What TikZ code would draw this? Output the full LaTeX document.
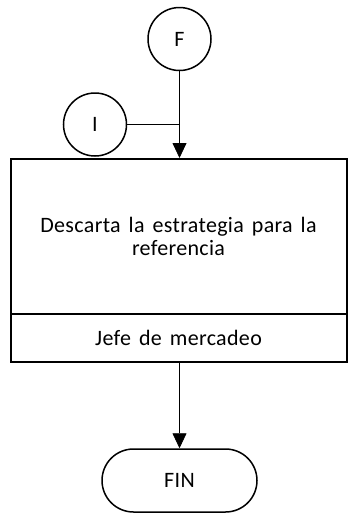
\documentclass[tikz,border=0pt]{standalone}
\usepackage{fontspec}
\setmainfont{Carlito}[LetterSpace=1.5]
\usetikzlibrary{arrows.meta,shapes.misc}
\newcommand\diagfont{\fontsize{22}{23.5}\selectfont\spaceskip 8pt plus 1pt minus 1pt\relax}
\begin{document}
\begin{tikzpicture}[x=1pt,y=-1pt,
  txt/.style={font=\diagfont},
  conn/.style={txt,circle,draw,line width=1.5pt,minimum size=63pt,inner sep=0pt},
  proc/.style={txt,draw,line width=2pt,minimum width=336pt,inner sep=0pt,align=center},
  term/.style={txt,rounded rectangle,draw,line width=1.5pt,minimum width=155pt,minimum height=63pt,inner sep=0pt},
  link/.style={line width=0.8pt},
  flow/.style={link,-{Triangle[length=15pt,width=14pt]}}
]
\path[fill=white] (0,0) rectangle (351,517);
\node[conn] (F) at (179.5,39) {F};
\node[conn] (I) at (95,124.5) {I};
\node[proc,minimum height=155pt] (task) at (178.5,236.5) {\raisebox{0pt}{}Descarta la estrategia para la\\referencia};
\node[proc,minimum height=48pt] (role) at (178.5,338) {Jefe de mercadeo};
\node[term] (fin) at (179.5,480.5) {FIN};
\coordinate (j) at (F.south |- I.east);
\draw[flow] (F.south) -- (F.south |- task.north);
\draw[link] (I.east) -- (j);
\draw[flow] (F.south |- role.south) -- (fin.north);
\end{tikzpicture}
\end{document}
